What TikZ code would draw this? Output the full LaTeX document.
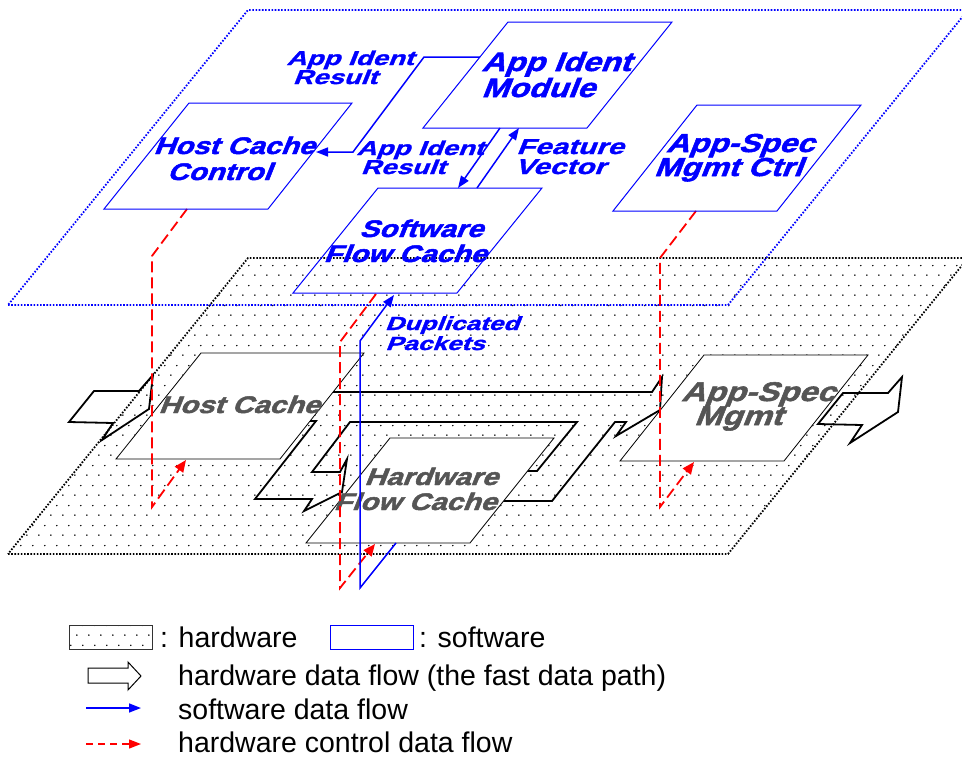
\documentclass[tikz,border=0pt]{standalone}
\usepackage{fontspec}
\setmainfont{Liberation Sans}
\newfontfamily\bigf{Liberation Sans}[FakeSlant=0.4,FakeStretch=1.22,FakeBold=2]
\newfontfamily\smf{Liberation Sans}[FakeSlant=0.4,FakeStretch=1.38,FakeBold=1.6]
\usetikzlibrary{arrows.meta,patterns}
\pgfdeclarepatternformonly{hwdots}{\pgfpointorigin}{\pgfpoint{12.4pt}{20pt}}{\pgfpoint{12.4pt}{20pt}}{%
  \pgfpathcircle{\pgfpoint{3pt}{3pt}}{0.85pt}%
  \pgfpathcircle{\pgfpoint{9.2pt}{13pt}}{0.85pt}%
  \pgfusepath{fill}}
\definecolor{hwgray}{RGB}{85,85,85}
\begin{document}
\begin{tikzpicture}[x=1pt,y=-1pt,
  hwplane/.style={draw=black,line width=1.8pt,dash pattern=on 1.6pt off 1.6pt,pattern=hwdots},
  swplane/.style={draw=blue,line width=1.8pt,dash pattern=on 1.6pt off 1.6pt},
  hwbox/.style={draw=black,line width=0.8pt,fill=white},
  swbox/.style={draw=blue,line width=1pt},
  hwflow/.style={draw=black,line width=1.8pt,line join=miter},
  ctrl/.style={draw=red,line width=1.8pt,dash pattern=on 11pt off 5pt,-{Triangle[length=12pt,width=10pt]}},
  swflow/.style={draw=blue,line width=1.5pt,-{Triangle[length=12pt,width=9pt]}},
  bl/.style={blue,anchor=base,inner sep=0pt,font=\bigf\bfseries\fontsize{#1}{#1}\selectfont},
  sl/.style={blue,anchor=base,inner sep=0pt,font=\smf\bfseries\fontsize{#1}{#1}\selectfont},
  gl/.style={hwgray,anchor=base,inner sep=0pt,font=\bigf\bfseries\fontsize{#1}{#1}\selectfont},
  lg/.style={anchor=base west,inner sep=0pt,font=\fontsize{28.5}{30}\selectfont}]
\useasboundingbox (0,0) rectangle (962,758);

% ---------------- hardware plane
\path[hwplane] (8,554) -- (728,554) -- (968,258) -- (248,258) -- cycle;

% ---------------- hardware data flow (block arrows)
\draw[hwflow] (69,422) -- (94,391) -- (139,391) -- (153,375) -- (149,409) -- (102,440) -- (113,423) -- cycle;
\draw[hwflow] (300,421) -- (316,421) -- (255,499) -- (312,499) -- (304,511) -- (342,492) -- (347,459)
  -- (340,472) -- (312,472) -- (350,422) -- (577,422) -- (537,471) -- (480,471) -- (480,501)
  -- (552,501) -- (615,422) -- (626,422) -- (616,436) -- (660,410) -- (662,377) -- (652,392)
  -- (300,392) -- cycle;
\draw[hwflow] (818,424) -- (843,393) -- (888,393) -- (902,377) -- (898,412) -- (850,443) -- (862,425) -- cycle;

% ---------------- hardware boxes
\draw[hwbox] (116,459) -- (280,459) -- (364,353) -- (201,353) -- cycle;
\draw[hwbox] (306,543) -- (470,543) -- (554,438) -- (390,438) -- cycle;
\draw[hwbox] (620,461) -- (784,461) -- (868,355) -- (704,355) -- cycle;

\node[gl=24] (hcA) at (239,413) {Host Cache};
\node[gl=24] (hfcA) at (431,485) {Hardware};
\node[gl=24] (hfcB) at (415,510) {Flow Cache};
\node[gl=27] (asmA) at (758,401) {App-Spec};
\node[gl=27] (asmB) at (738,425) {Mgmt};

% ---------------- named points for connectors
\coordinate (hccOut) at (187,209);
\coordinate (hccK1) at (152,256);
\coordinate (hccK2) at (152,507);
\coordinate (hcIn) at (186,460);
\coordinate (ascOut) at (696,211);
\coordinate (ascK1) at (660,258);
\coordinate (ascK2) at (660,507);
\coordinate (asIn) at (694,462);
\coordinate (sfcOut) at (376,294);
\coordinate (sfcK1) at (340,342);
\coordinate (sfcK2) at (340,588);
\coordinate (hfcIn) at (375,544);
\coordinate (hfcOut) at (396,543);
\coordinate (dupK1) at (360,588);
\coordinate (dupK2) at (360,341);
\coordinate (sfcIn) at (394,295);
\coordinate (aimL) at (480,57);
\coordinate (airK1) at (424,57);
\coordinate (airK2) at (353,152);
\coordinate (hccIn) at (316,152);
\coordinate (aimB) at (500,128);
\coordinate (sfcT) at (458,188);
\coordinate (sfcT2) at (477,188);
\coordinate (aimB2) at (519,128);

% ---------------- hardware control data flow
\draw[ctrl] (hccOut) -- (hccK1) -- (hccK2) -- (hcIn);
\draw[ctrl] (ascOut) -- (ascK1) -- (ascK2) -- (asIn);
\draw[ctrl] (sfcOut) -- (sfcK1) -- (sfcK2) -- (hfcIn);

% ---------------- software data flow
\draw[swflow] (hfcOut) -- (dupK1) -- (dupK2) -- (sfcIn);

% ---------------- software plane
\draw[swplane] (8,305) -- (728,305) -- (968,10) -- (248,10) -- cycle;

% ---------------- software boxes
\draw[swbox] (104,209) -- (268,209) -- (352,103) -- (189,103) -- cycle;
\draw[swbox] (423,128) -- (587,128) -- (672,22) -- (508,22) -- cycle;
\draw[swbox] (293,293) -- (457,293) -- (542,188) -- (378,188) -- cycle;
\draw[swbox] (613,211) -- (777,211) -- (861,105) -- (697,105) -- cycle;

\draw[swflow] (aimL) -- (airK1) -- (airK2) -- (hccIn);
\draw[swflow] (aimB) -- (sfcT);
\draw[swflow] (sfcT2) -- (aimB2);

\node[bl=24] (hccA) at (234,154) {Host Cache};
\node[bl=24] (hccB) at (219,180) {Control};
\node[bl=26.5] (aimA) at (556,71) {App Ident};
\node[bl=26.5] (aimM) at (538,97) {Module};
\node[bl=24] (sfcA) at (421,237) {Software};
\node[bl=24] (sfcB) at (405,262) {Flow Cache};
\node[bl=26] (ascA) at (740,152) {App-Spec};
\node[bl=26] (ascB) at (728,176) {Mgmt Ctrl};

\node[sl=20] (air1A) at (350,65) {App Ident};
\node[sl=20] (air1B) at (335,84) {Result};
\node[sl=20] (air2A) at (420,155) {App Ident};
\node[sl=20] (air2B) at (403,174) {Result};
\node[sl=21.5] (fvA) at (570,154) {Feature};
\node[sl=21.5] (fvB) at (560,174) {Vector};
\node[sl=19] (dpA) at (452,330) {Duplicated};
\node[sl=19] (dpB) at (435,350) {Packets};

% ---------------- legend
\path[draw=black!80,line width=0.9pt,pattern=hwdots] (69,625) rectangle (152,649);
\node[lg] (lgHw) at (160,647) {: hardware};
\draw[draw=blue,line width=1pt] (330,625) rectangle (413,649);
\node[lg] (lgSw) at (419,647) {: software};
\draw[line width=1pt,line join=miter] (88,668) -- (128,668) -- (128,662) -- (141,676) -- (128,690) -- (128,683) -- (88,683) -- cycle;
\node[lg] (lgHf) at (178,685) {hardware data flow (the fast data path)};
\coordinate (lgB1) at (86,708);
\coordinate (lgB2) at (141,708);
\draw[swflow] (lgB1) -- (lgB2);
\node[lg] (lgSf) at (178,719) {software data flow};
\coordinate (lgR1) at (86,744);
\coordinate (lgR2) at (141,744);
\draw[draw=red,line width=1.3pt,dash pattern=on 7pt off 5pt,-{Triangle[length=12pt,width=9pt]}] (lgR1) -- (lgR2);
\node[lg] (lgCf) at (178,752) {hardware control data flow};
\end{tikzpicture}
\end{document}
